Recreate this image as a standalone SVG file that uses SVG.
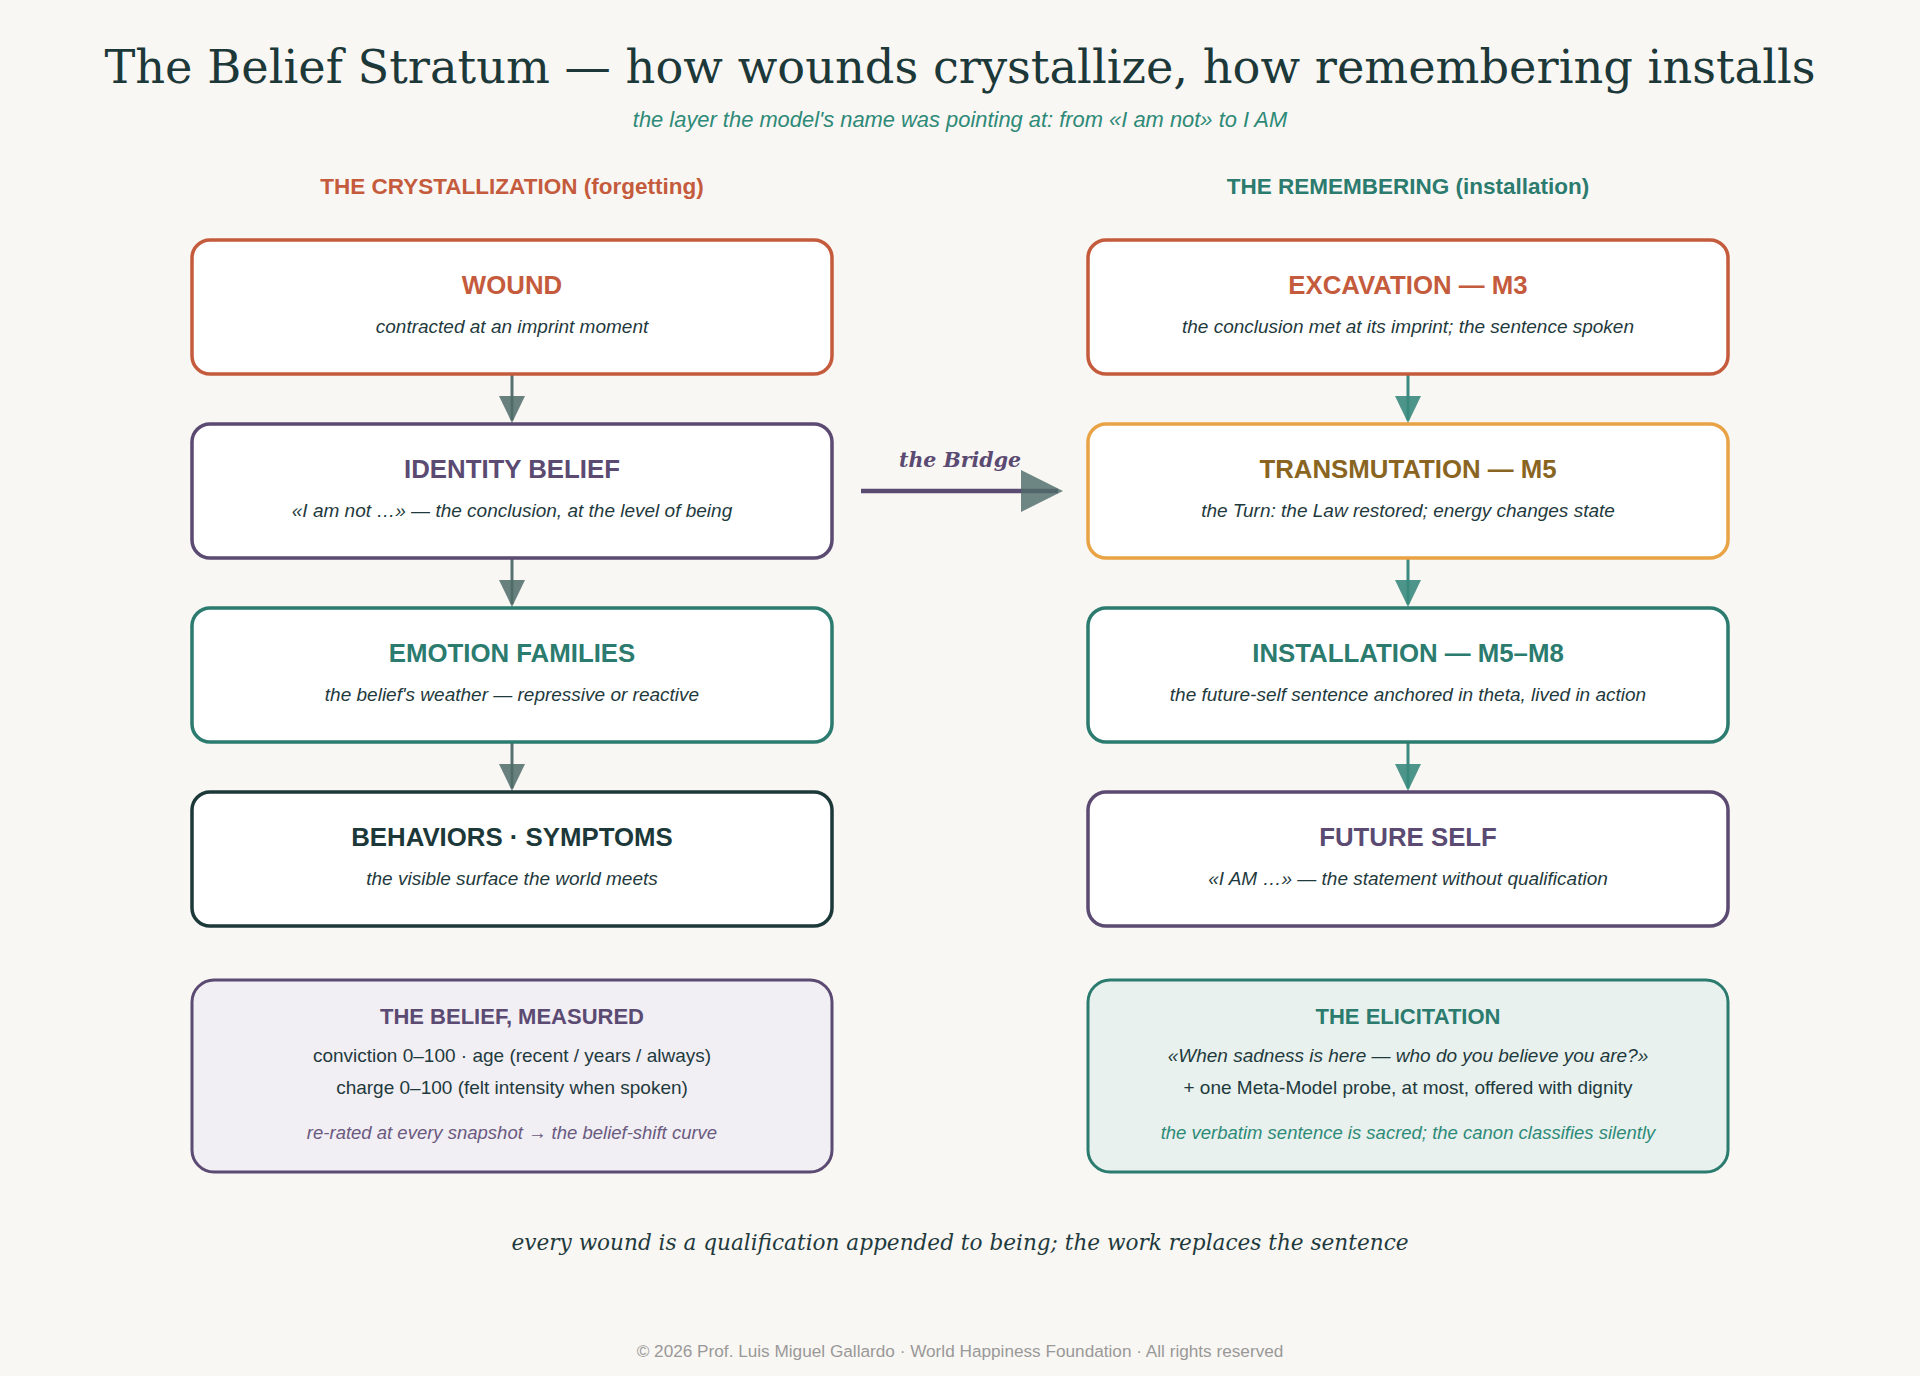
<svg xmlns="http://www.w3.org/2000/svg" width="1920" height="1376" viewBox="0 0 1920 1376">
<defs>
<style>
.bg{fill:#f9f7f3}
.serif{font-family:"DejaVu Serif","Liberation Serif",serif}
.sans{font-family:"Liberation Sans",Arial,sans-serif}
.box{fill:#ffffff;stroke-width:3.5}
.ttl{font-family:"Liberation Sans",Arial,sans-serif;font-weight:bold;font-size:25.8px;text-anchor:middle}
.sub{font-family:"Liberation Sans",Arial,sans-serif;font-style:italic;font-size:19px;text-anchor:middle;fill:#1f3a3d}
.red{stroke:#c55b3d}
.pur{stroke:#5b4a72}
.teal{stroke:#2b7b6f}
.dark{stroke:#1c3839}
.amb{stroke:#e9a345}
.tred{fill:#c55b3d}
.tpur{fill:#5b4a72}
.tteal{fill:#2b7b6f}
.tdark{fill:#1c3839}
.tbrown{fill:#8a6522}
.hd{font-family:"Liberation Sans",Arial,sans-serif;font-weight:bold;font-size:22px;text-anchor:middle}
.ch{font-family:"Liberation Sans",Arial,sans-serif;font-weight:bold;font-size:22.5px;text-anchor:middle}
.body{font-family:"Liberation Sans",Arial,sans-serif;font-size:19px;text-anchor:middle;fill:#1f3a3d}
.note{font-family:"Liberation Sans",Arial,sans-serif;font-style:italic;font-size:18.5px;text-anchor:middle}
.la{stroke:#56716f;stroke-width:3}
.ra{stroke:#3a8a7e;stroke-width:3}
</style>
</defs>
<rect class="bg" x="0" y="0" width="1920" height="1376"/>
<text class="serif" x="960" y="83" font-size="46.3" text-anchor="middle" fill="#1c3839">The Belief Stratum — how wounds crystallize, how remembering installs</text>
<text class="sans" x="960" y="127" font-size="21.9" font-style="italic" text-anchor="middle" fill="#2e8a78">the layer the model's name was pointing at: from «I am not» to I AM</text>
<text class="ch tred" x="512" y="194">THE CRYSTALLIZATION (forgetting)</text>
<text class="ch tteal" x="1408" y="194">THE REMEMBERING (installation)</text>

<g id="connectors">
<line class="la" x1="512" y1="374" x2="512" y2="420"/>
<polygon points="499,396 525,396 512,423" fill="#4f6c6a" fill-opacity="0.85"/>
<line class="la" x1="512" y1="558" x2="512" y2="604"/>
<polygon points="499,580 525,580 512,607" fill="#4f6c6a" fill-opacity="0.85"/>
<line class="la" x1="512" y1="742" x2="512" y2="788"/>
<polygon points="499,764 525,764 512,791" fill="#4f6c6a" fill-opacity="0.85"/>
<line class="ra" x1="1408" y1="374" x2="1408" y2="420"/>
<polygon points="1395,396 1421,396 1408,423" fill="#3a8a7e" fill-opacity="0.9"/>
<line class="ra" x1="1408" y1="558" x2="1408" y2="604"/>
<polygon points="1395,580 1421,580 1408,607" fill="#3a8a7e" fill-opacity="0.9"/>
<line class="ra" x1="1408" y1="742" x2="1408" y2="788"/>
<polygon points="1395,764 1421,764 1408,791" fill="#3a8a7e" fill-opacity="0.9"/>
<line x1="861" y1="491" x2="1058" y2="491" stroke="#5b4a72" stroke-width="4.5"/>
<polygon points="1021,470 1063,491 1021,512" fill="#4f6c6a" fill-opacity="0.82"/>
<text class="serif" x="960" y="467" font-size="20.5" font-weight="bold" font-style="italic" text-anchor="middle" fill="#5b4a72">the Bridge</text>
</g>

<g id="wound">
<rect class="box red" x="192" y="240" width="640" height="134" rx="18"/>
<text class="ttl tred" x="512" y="294">WOUND</text>
<text class="sub" x="512" y="333">contracted at an imprint moment</text>
</g>
<g id="identity-belief">
<rect class="box pur" x="192" y="424" width="640" height="134" rx="18"/>
<text class="ttl tpur" x="512" y="478">IDENTITY BELIEF</text>
<text class="sub" x="512" y="517">«I am not …» — the conclusion, at the level of being</text>
</g>
<g id="emotion-families">
<rect class="box teal" x="192" y="608" width="640" height="134" rx="18"/>
<text class="ttl tteal" x="512" y="662">EMOTION FAMILIES</text>
<text class="sub" x="512" y="701">the belief's weather — repressive or reactive</text>
</g>
<g id="behaviors">
<rect class="box dark" x="192" y="792" width="640" height="134" rx="18"/>
<text class="ttl tdark" x="512" y="846">BEHAVIORS · SYMPTOMS</text>
<text class="sub" x="512" y="885">the visible surface the world meets</text>
</g>

<g id="excavation">
<rect class="box red" x="1088" y="240" width="640" height="134" rx="18"/>
<text class="ttl tred" x="1408" y="294">EXCAVATION — M3</text>
<text class="sub" x="1408" y="333">the conclusion met at its imprint; the sentence spoken</text>
</g>
<g id="transmutation">
<rect class="box amb" x="1088" y="424" width="640" height="134" rx="18"/>
<text class="ttl tbrown" x="1408" y="478">TRANSMUTATION — M5</text>
<text class="sub" x="1408" y="517">the Turn: the Law restored; energy changes state</text>
</g>
<g id="installation">
<rect class="box teal" x="1088" y="608" width="640" height="134" rx="18"/>
<text class="ttl tteal" x="1408" y="662">INSTALLATION — M5–M8</text>
<text class="sub" x="1408" y="701">the future-self sentence anchored in theta, lived in action</text>
</g>
<g id="future-self">
<rect class="box pur" x="1088" y="792" width="640" height="134" rx="18"/>
<text class="ttl tpur" x="1408" y="846">FUTURE SELF</text>
<text class="sub" x="1408" y="885">«I AM …» — the statement without qualification</text>
</g>

<g id="belief-measured">
<rect x="192" y="980" width="640" height="192" rx="22" fill="#f1eef4" stroke="#5b4a72" stroke-width="3"/>
<text class="hd tpur" x="512" y="1024">THE BELIEF, MEASURED</text>
<text class="body" x="512" y="1062">conviction 0–100 · age (recent / years / always)</text>
<text class="body" x="512" y="1094">charge 0–100 (felt intensity when spoken)</text>
<text class="note" x="512" y="1139" fill="#6a5a80">re-rated at every snapshot → the belief-shift curve</text>
</g>
<g id="elicitation">
<rect x="1088" y="980" width="640" height="192" rx="22" fill="#e8f1ed" stroke="#2b7b6f" stroke-width="3"/>
<text class="hd tteal" x="1408" y="1024">THE ELICITATION</text>
<text class="body" x="1408" y="1062" font-style="italic">«When sadness is here — who do you believe you are?»</text>
<text class="body" x="1408" y="1094">+ one Meta-Model probe, at most, offered with dignity</text>
<text class="note" x="1408" y="1139" fill="#2e8a78">the verbatim sentence is sacred; the canon classifies silently</text>
</g>

<text class="serif" x="960" y="1250" font-size="21.6" font-style="italic" text-anchor="middle" fill="#1f3a3d">every wound is a qualification appended to being; the work replaces the sentence</text>
<text class="sans" x="960" y="1357" font-size="17.2" text-anchor="middle" fill="#999999">© 2026 Prof. Luis Miguel Gallardo · World Happiness Foundation · All rights reserved</text>
</svg>
